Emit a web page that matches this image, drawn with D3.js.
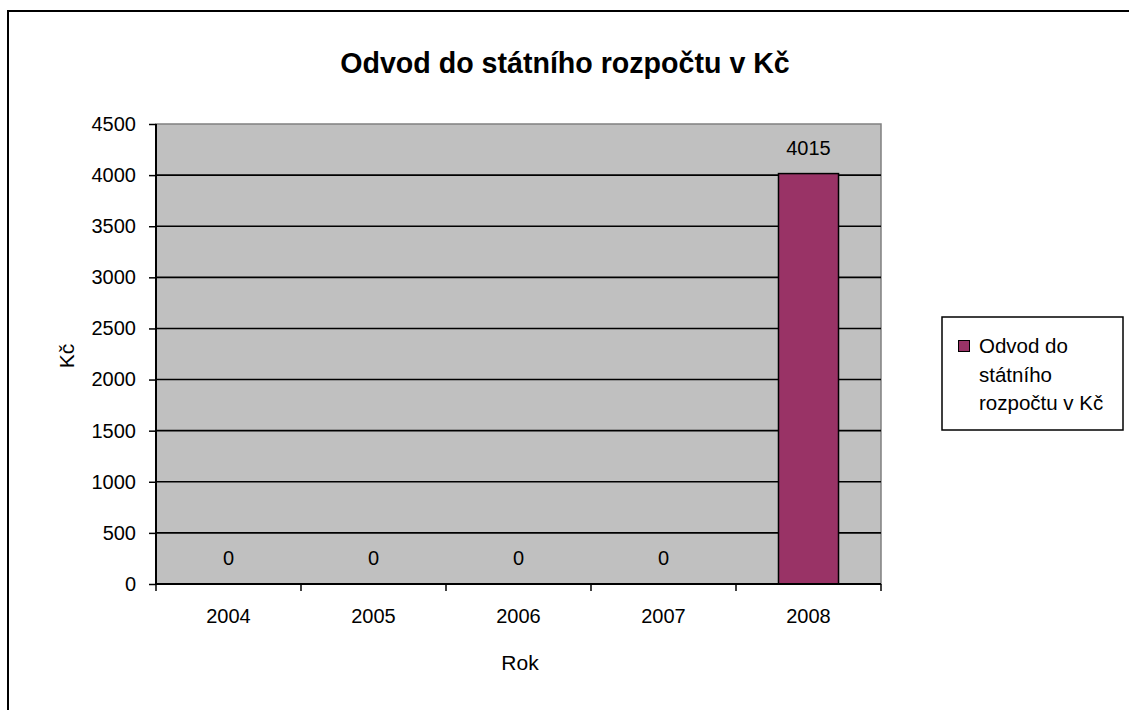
<!DOCTYPE html>
<html><head><meta charset="utf-8">
<script src="https://cdn.jsdelivr.net/npm/d3@7"></script>
<style>body{margin:0;background:#fff}svg{display:block;font-family:"Liberation Sans",Arial,sans-serif}</style>
</head><body>
<svg id="c" width="1129" height="710"></svg>
<script>
const categories = ["2004","2005","2006","2007","2008"];
const values = [0,0,0,0,4015];
const yTicks = [0,500,1000,1500,2000,2500,3000,3500,4000,4500];
const seriesName = "Odvod do státního rozpočtu v Kč";
const legendLines = ["Odvod do","státního","rozpočtu v Kč"];

const FONT = "Liberation Sans, Arial, sans-serif";
const svg = d3.select("#c");
const L=156, R=881, T=124, B=584;
// outer frame
svg.append("rect").attr("x",8).attr("y",11).attr("width",1300).attr("height",900)
  .attr("fill","none").attr("stroke","#000").attr("stroke-width",2);

const x = d3.scaleBand().domain(categories).range([L,R]).paddingInner(0).paddingOuter(0);
const y = d3.scaleLinear().domain([0,4500]).range([B,T]);

svg.append("rect").attr("x",L).attr("y",T).attr("width",R-L).attr("height",B-T)
  .attr("fill","#c0c0c0").attr("stroke","#808080").attr("stroke-width",1.5);

// gridlines
svg.append("g").selectAll("line").data(yTicks.filter(d=>d>0 && d<4500)).join("line")
  .attr("x1",L).attr("x2",R).attr("y1",d=>y(d)).attr("y2",d=>y(d))
  .attr("stroke","#000").attr("stroke-width",1.6);

// bars
const bw = x.bandwidth()*0.414;
svg.append("g").selectAll("rect").data(values.map((v,i)=>({c:categories[i],v})).filter(d=>d.v>0)).join("rect")
  .attr("x",d=>x(d.c)+x.bandwidth()/2-bw/2).attr("width",bw)
  .attr("y",d=>y(d.v)).attr("height",d=>y(0)-y(d.v))
  .attr("fill","#993366").attr("stroke","#000").attr("stroke-width",1.5);

// y axis
const ya = svg.append("g").attr("transform",`translate(${L},0)`)
  .call(d3.axisLeft(y).tickValues(yTicks).tickFormat(d3.format("d")).tickSize(7).tickPadding(13));
ya.attr("font-family",FONT).attr("font-size",20);
ya.select(".domain").attr("stroke","#000").attr("stroke-width",2).attr("d",`M0,${T}V${B}`);
ya.selectAll(".tick line").attr("stroke","#000").attr("stroke-width",1.5);
ya.selectAll("text").attr("fill","#000");

// x axis
const xa = svg.append("g").attr("transform",`translate(0,${B})`)
  .call(d3.axisBottom(x).tickSize(0).tickPadding(25));
xa.attr("font-family",FONT).attr("font-size",20);
xa.select(".domain").remove();
xa.append("line").attr("x1",L).attr("x2",R).attr("y1",0).attr("y2",0).attr("stroke","#000").attr("stroke-width",2);
const bounds = categories.map(c=>x(c)).concat([R]);
xa.selectAll(".bt").data(bounds).join("line").attr("class","bt")
  .attr("x1",d=>d).attr("x2",d=>d).attr("y1",0).attr("y2",7).attr("stroke","#000").attr("stroke-width",1.5);
xa.selectAll("text").attr("fill","#000");

// data labels
svg.append("g").attr("font-family",FONT).selectAll("text").data(values.map((v,i)=>({c:categories[i],v}))).join("text")
  .attr("x",d=>x(d.c)+x.bandwidth()/2).attr("y",d=>y(d.v)-19)
  .attr("text-anchor","middle").attr("font-size",20).attr("fill","#000").text(d=>d.v);

// title
svg.append("text").attr("x",565).attr("y",73).attr("text-anchor","middle")
  .attr("font-size",28.6).attr("font-weight","bold").text(seriesName);
// axis titles
svg.append("text").attr("transform","translate(74,356) rotate(-90)").attr("text-anchor","middle")
  .attr("font-size",21).text("Kč");
svg.append("text").attr("x",520).attr("y",670).attr("text-anchor","middle")
  .attr("font-size",21).text("Rok");

// legend
svg.append("rect").attr("x",942).attr("y",317).attr("width",181).attr("height",113)
  .attr("fill","#fff").attr("stroke","#000").attr("stroke-width",1.5);
svg.append("rect").attr("x",958.5).attr("y",340.5).attr("width",11).attr("height",11)
  .attr("fill","#993366").attr("stroke","#000").attr("stroke-width",1);
svg.append("g").selectAll("text").data(legendLines).join("text")
  .attr("x",979).attr("y",(d,i)=>353+i*28.5).attr("font-size",20.5).text(d=>d);
</script>
</body></html>
